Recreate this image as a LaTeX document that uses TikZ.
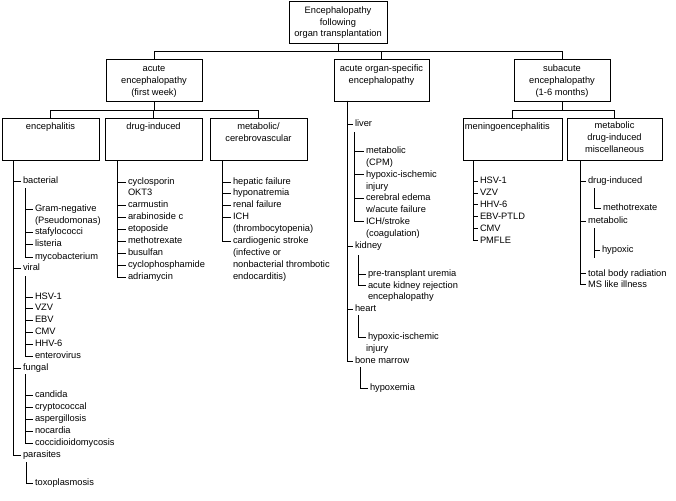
\documentclass[tikz,border=0pt]{standalone}
\usepackage{fontspec}
\setmainfont{Liberation Sans}
\newcommand{\fs}{\fontsize{9.3}{11}\selectfont}
\begin{document}
\begin{tikzpicture}[x=1pt,y=-1pt,line width=0.9pt,
  box/.style={draw,inner sep=0pt,minimum width=#1,minimum height=42pt},
  lbl/.style={inner sep=0pt,anchor=mid,font=\fs},
  item/.style={inner sep=0pt,outer xsep=2pt,anchor=mid west,font=\fs}]
\useasboundingbox (0,0) rectangle (676,500);
% ---------- boxes ----------
\node[box=98] (top) at (338,22) {};
\node[lbl] (topa) at (338,11) {Encephalopathy};
\node[lbl] (topb) at (338,22.5) {following};
\node[lbl] (topc) at (338,34) {organ transplantation};

\node[box=96] (acute) at (154,80) {};
\node[lbl] (acutea) at (154,69) {acute};
\node[lbl] (acuteb) at (154,81) {encephalopathy};
\node[lbl] (acutec) at (154,93) {(first week)};

\node[box=95] (organ) at (381.5,80) {};
\node[lbl] (organa) at (381.5,69) {acute organ-specific};
\node[lbl] (organb) at (381.5,81) {encephalopathy};

\node[box=96] (sub) at (562,80) {};
\node[lbl] (suba) at (562,69) {subacute};
\node[lbl] (subb) at (562,81) {encephalopathy};
\node[lbl] (subc) at (562,93) {(1-6 months)};

\node[box=97] (encb) at (50.5,139) {};
\node[lbl] (encbt) at (50.5,127) {encephalitis};
\node[box=97] (drugb) at (153.5,139) {};
\node[lbl] (drugbt) at (153.5,127) {drug-induced};
\node[box=97] (metb) at (258.5,139) {};
\node[lbl] (metba) at (258.5,127) {metabolic/};
\node[lbl] (metbb) at (258.5,139) {cerebrovascular};
\node[box=99] (menb) at (512.5,139) {};
\node[lbl,anchor=mid west] (menbt) at (464.5,127) {meningoencephalitis};
\node[box=95] (miscb) at (614.5,139) {};
\node[lbl] (miscba) at (614.5,126) {metabolic};
\node[lbl] (miscbb) at (614.5,138) {drug-induced};
\node[lbl] (miscbc) at (614.5,150) {miscellaneous};

% ---------- box connectors ----------
\coordinate (b1) at (338,51);
\draw (top.south) -- (b1);
\draw (b1) -| (acute.north);
\draw (b1) -| (organ.north);
\draw (b1) -| (sub.north);
\coordinate (b2) at (154,110);
\draw (acute.south) -- (b2);
\draw (b2) -| (encb.north);
\draw (b2) -| (drugb.north);
\draw (b2) -| (metb.north);
\coordinate (b3) at (562,110);
\draw (sub.south) -- (b3);
\draw (b3) -| (menb.north);
\draw (b3) -| (miscb.north);

% ---------- encephalitis ----------
\coordinate (ev) at (13,160);
\node[item] (bact) at (21,181) {bacterial};
\node[item] (viral) at (21,268) {viral};
\node[item] (fung) at (21,368) {fungal};
\node[item] (para) at (21,455) {parasites};
\foreach \n in {bact,viral,fung,para} \draw (ev) |- (\n.mid west);
\coordinate (ev1) at (25,188);
\node[item] (gram) at (33,209) {Gram-negative};
\node[item] (pseu) at (33,221) {(Pseudomonas)};
\node[item] (staf) at (33,232) {stafylococci};
\node[item] (list) at (33,244) {listeria};
\node[item] (myco) at (33,257) {mycobacterium};
\foreach \n in {gram,staf,list,myco} \draw (ev1) |- (\n.mid west);
\coordinate (ev2) at (25,276);
\node[item] (hsv) at (33,297) {HSV-1};
\node[item] (vzv) at (33,308) {VZV};
\node[item] (ebv) at (33,320) {EBV};
\node[item] (cmv) at (33,332) {CMV};
\node[item] (hhv) at (33,344) {HHV-6};
\node[item] (ent) at (33,356) {enterovirus};
\foreach \n in {hsv,vzv,ebv,cmv,hhv,ent} \draw (ev2) |- (\n.mid west);
\coordinate (ev3) at (25,374);
\node[item] (cand) at (33,395) {candida};
\node[item] (cryp) at (33,407) {cryptococcal};
\node[item] (asp) at (33,419) {aspergillosis};
\node[item] (noc) at (33,431) {nocardia};
\node[item] (cocc) at (33,443) {coccidioidomycosis};
\foreach \n in {cand,cryp,asp,noc,cocc} \draw (ev3) |- (\n.mid west);
\coordinate (ev4) at (26,462);
\node[item] (toxo) at (33,483) {toxoplasmosis};
\draw (ev4) |- (toxo.mid west);

% ---------- drug-induced ----------
\coordinate (dv) at (117,160);
\node[item] (cyc) at (126,182) {cyclosporin};
\node[item] (okt) at (126,193) {OKT3};
\node[item] (carm) at (126,205) {carmustin};
\node[item] (arab) at (126,217) {arabinoside c};
\node[item] (etop) at (126,229) {etoposide};
\node[item] (meth) at (126,241) {methotrexate};
\node[item] (busu) at (126,253) {busulfan};
\node[item] (cyph) at (126,265) {cyclophosphamide};
\node[item] (adri) at (126,277) {adriamycin};
\foreach \n in {cyc,carm,arab,etop,meth,busu,cyph,adri} \draw (dv) |- (\n.mid west);

% ---------- metabolic / cerebrovascular ----------
\coordinate (mv) at (222,160);
\node[item] (hep) at (231,182) {hepatic failure};
\node[item] (hypn) at (231,193) {hyponatremia};
\node[item] (ren) at (231,205) {renal failure};
\node[item] (ich) at (231,217) {ICH};
\node[item] (thr) at (231,229) {(thrombocytopenia)};
\node[item] (card) at (231,241) {cardiogenic stroke};
\node[item] (infe) at (231,253) {(infective or};
\node[item] (nonb) at (231,265) {nonbacterial thrombotic};
\node[item] (endo) at (231,277) {endocarditis)};
\foreach \n in {hep,hypn,ren,ich,card} \draw (mv) |- (\n.mid west);

% ---------- organ-specific ----------
\coordinate (ov) at (347,101);
\node[item] (liv) at (353,124) {liver};
\node[item] (kid) at (353,246) {kidney};
\node[item] (hea) at (353,309) {heart};
\node[item] (bon) at (353,361) {bone marrow};
\foreach \n in {liv,kid,hea,bon} \draw (ov) |- (\n.mid west);
\coordinate (ov1) at (354,132);
\node[item] (lmet) at (364,151) {metabolic};
\node[item] (lcpm) at (364,162.8) {(CPM)};
\node[item] (lhyp) at (364,174.6) {hypoxic-ischemic};
\node[item] (linj) at (364,186.4) {injury};
\node[item] (lcer) at (364,198.2) {cerebral edema};
\node[item] (lwac) at (364,210) {w/acute failure};
\node[item] (lich) at (364,221.8) {ICH/stroke};
\node[item] (lcoa) at (364,233.6) {(coagulation)};
\foreach \n in {lmet,lhyp,lcer,lich} \draw (ov1) |- (\n.mid west);
\coordinate (ov2) at (358,255);
\node[item] (kpre) at (366,274) {pre-transplant uremia};
\node[item] (kacu) at (366,285.5) {acute kidney rejection};
\node[item] (kenc) at (366,297) {encephalopathy};
\foreach \n in {kpre,kacu} \draw (ov2) |- (\n.mid west);
\coordinate (ov3) at (358,315);
\node[item] (hhyp) at (366,337) {hypoxic-ischemic};
\node[item] (hinj) at (364,349) {injury};
\draw (ov3) |- (hhyp.mid west);
\coordinate (ov4) at (360,367);
\node[item] (bhyp) at (368,388) {hypoxemia};
\draw (ov4) |- (bhyp.mid west);

% ---------- meningoencephalitis ----------
\coordinate (nv) at (473,160);
\node[item] (nhsv) at (478,181) {HSV-1};
\node[item] (nvzv) at (478,193) {VZV};
\node[item] (nhhv) at (478,204.5) {HHV-6};
\node[item] (nebv) at (478,216.5) {EBV-PTLD};
\node[item] (ncmv) at (478,228.5) {CMV};
\node[item] (npml) at (478,240.5) {PMFLE};
\foreach \n in {nhsv,nvzv,nhhv,nebv,ncmv,npml} \draw (nv) |- (\n.mid west);

% ---------- metabolic drug-induced miscellaneous ----------
\coordinate (xv) at (580,160);
\node[item] (xdrug) at (586,181) {drug-induced};
\node[item] (xmet) at (586,221) {metabolic};
\node[item] (xtbr) at (586,273.5) {total body radiation};
\node[item] (xms) at (586,284.5) {MS like illness};
\foreach \n in {xdrug,xmet,xtbr,xms} \draw (xv) |- (\n.mid west);
\coordinate (xv1) at (594,188);
\node[item] (xmeth) at (601,208) {methotrexate};
\draw (xv1) |- (xmeth.mid west);
\coordinate (xv2) at (594,228);
\coordinate (xv2e) at (594,258);
\node[item] (xhyp) at (600,250) {hypoxic};
\draw (xv2) -- (xv2e);
\draw (xv2) |- (xhyp.mid west);
\end{tikzpicture}
\end{document}
